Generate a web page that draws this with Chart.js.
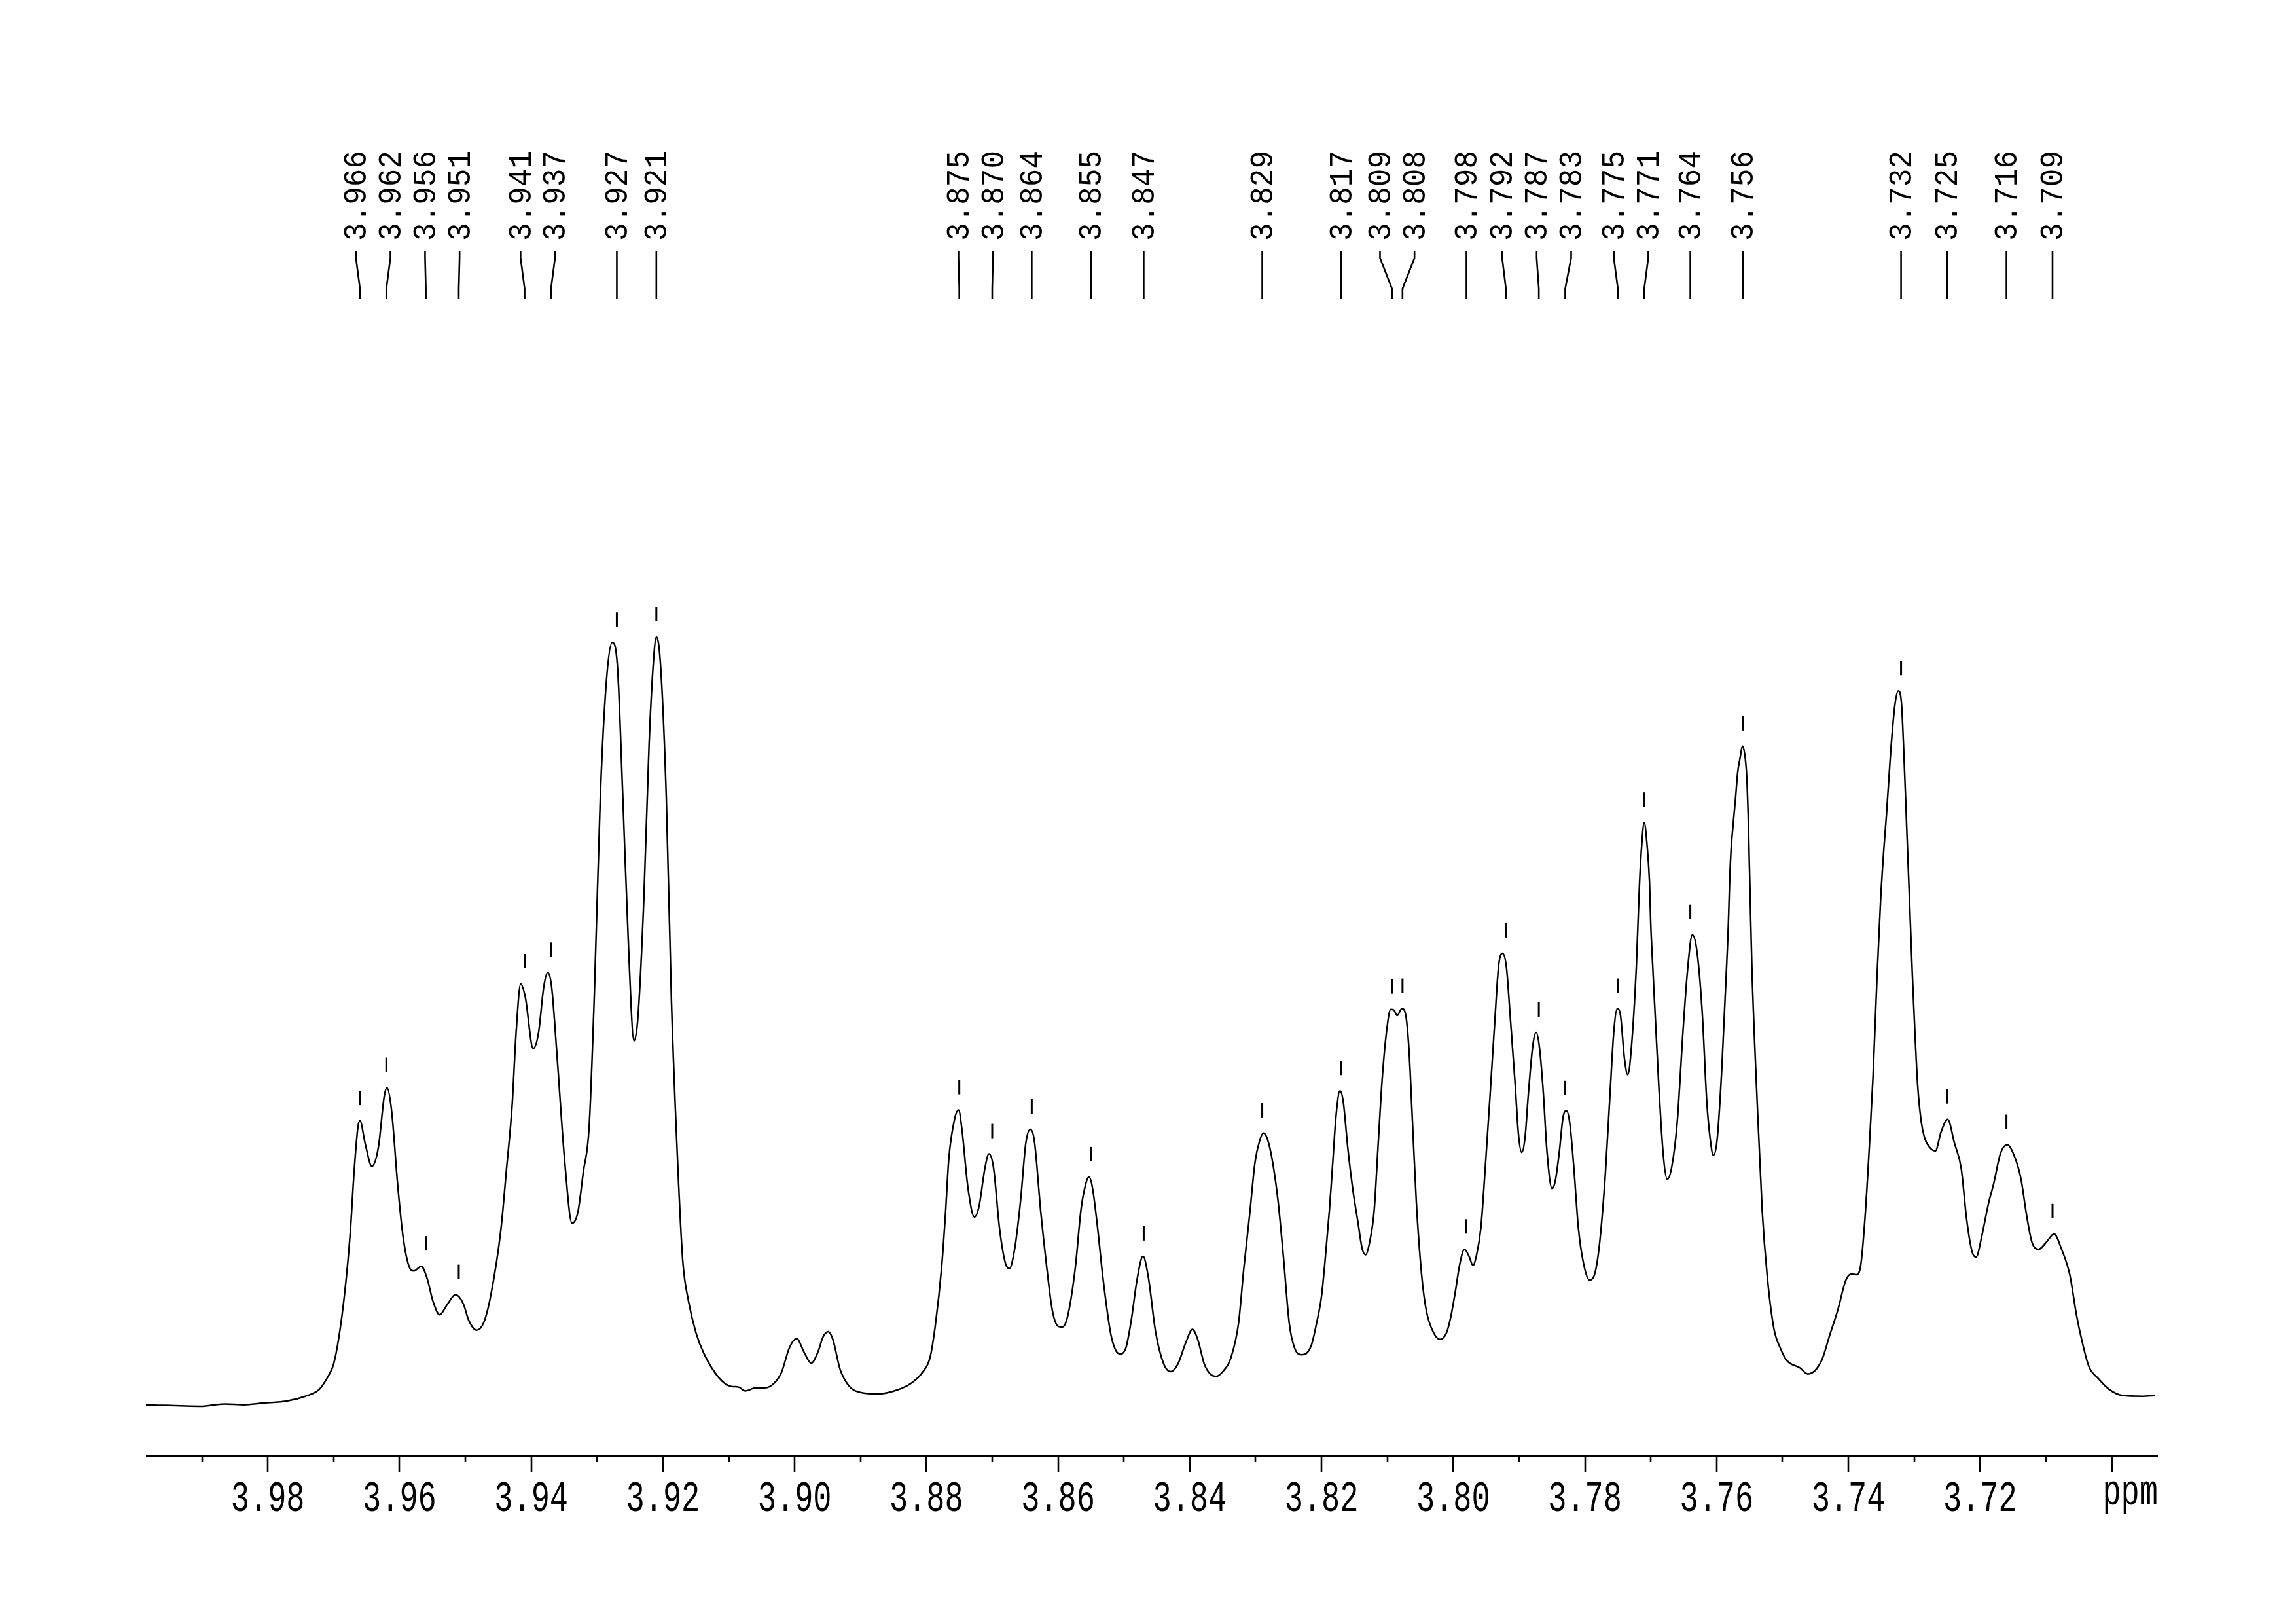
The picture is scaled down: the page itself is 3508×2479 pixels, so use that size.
<!DOCTYPE html>
<html>
<head>
<meta charset="utf-8">
<title>1H NMR, 3.70 - 3.99 ppm</title>
<script src="https://cdn.jsdelivr.net/npm/chart.js@4.4.1/dist/chart.umd.min.js"></script>
<style>
  html, body { margin: 0; padding: 0; background: #fff; }
  canvas { display: block; }
</style>
</head>
<body>
<canvas id="spectrum" width="3508" height="2479"></canvas>
<script>
// chemical shift (ppm) of each traced point, left to right
const shifts = [
  3.9985, 3.9902, 3.9866, 3.9836, 3.9809, 3.9770, 3.9743, 3.9723, 3.9717, 3.9707,
  3.9700, 3.9692, 3.9683, 3.9675, 3.9669, 3.9663, 3.9660, 3.9652, 3.9642, 3.9632,
  3.9623, 3.9619, 3.9612, 3.9603, 3.9595, 3.9586, 3.9578, 3.9567, 3.9558, 3.9549,
  3.9539, 3.9527, 3.9515, 3.9503, 3.9495, 3.9483, 3.9472, 3.9461, 3.9446, 3.9438,
  3.9429, 3.9423, 3.9416, 3.9409, 3.9397, 3.9389, 3.9381, 3.9375, 3.9369, 3.9361,
  3.9349, 3.9338, 3.9329, 3.9321, 3.9312, 3.9304, 3.9295, 3.9286, 3.9277, 3.9269,
  3.9261, 3.9252, 3.9244, 3.9238, 3.9229, 3.9221, 3.9215, 3.9210, 3.9204, 3.9195,
  3.9187, 3.9178, 3.9170, 3.9161, 3.9150, 3.9138, 3.9114, 3.9097, 3.9085, 3.9075,
  3.9059, 3.9045, 3.9031, 3.9020, 3.9008, 3.8997, 3.8985, 3.8975, 3.8964, 3.8957,
  3.8949, 3.8942, 3.8931, 3.8917, 3.8900, 3.8874, 3.8845, 3.8823, 3.8806, 3.8794,
  3.8786, 3.8777, 3.8771, 3.8766, 3.8757, 3.8751, 3.8746, 3.8737, 3.8727, 3.8720,
  3.8711, 3.8705, 3.8698, 3.8689, 3.8680, 3.8674, 3.8666, 3.8657, 3.8649, 3.8642,
  3.8636, 3.8626, 3.8617, 3.8609, 3.8600, 3.8594, 3.8586, 3.8574, 3.8565, 3.8557,
  3.8553, 3.8548, 3.8540, 3.8532, 3.8520, 3.8512, 3.8505, 3.8497, 3.8489, 3.8480,
  3.8471, 3.8463, 3.8452, 3.8440, 3.8429, 3.8418, 3.8406, 3.8396, 3.8388, 3.8378,
  3.8369, 3.8360, 3.8349, 3.8338, 3.8326, 3.8318, 3.8309, 3.8301, 3.8294, 3.8288,
  3.8282, 3.8275, 3.8266, 3.8258, 3.8249, 3.8241, 3.8230, 3.8216, 3.8208, 3.8200,
  3.8194, 3.8188, 3.8183, 3.8178, 3.8172, 3.8167, 3.8160, 3.8152, 3.8145, 3.8138,
  3.8133, 3.8127, 3.8120, 3.8114, 3.8108, 3.8101, 3.8095, 3.8090, 3.8085, 3.8078,
  3.8072, 3.8067, 3.8062, 3.8056, 3.8048, 3.8041, 3.8030, 3.8020, 3.8010, 3.8004,
  3.7997, 3.7990, 3.7983, 3.7976, 3.7970, 3.7965, 3.7958, 3.7952, 3.7944, 3.7937,
  3.7931, 3.7925, 3.7919, 3.7914, 3.7906, 3.7901, 3.7896, 3.7891, 3.7886, 3.7879,
  3.7874, 3.7869, 3.7863, 3.7858, 3.7850, 3.7845, 3.7839, 3.7833, 3.7828, 3.7823,
  3.7817, 3.7810, 3.7802, 3.7793, 3.7784, 3.7777, 3.7769, 3.7762, 3.7756, 3.7751,
  3.7746, 3.7740, 3.7735, 3.7730, 3.7722, 3.7719, 3.7717, 3.7714, 3.7710, 3.7706,
  3.7702, 3.7700, 3.7697, 3.7688, 3.7681, 3.7675, 3.7668, 3.7660, 3.7651, 3.7644,
  3.7637, 3.7630, 3.7622, 3.7615, 3.7610, 3.7605, 3.7599, 3.7592, 3.75840, 3.75823,
  3.75803, 3.75780, 3.75747, 3.75714, 3.75681, 3.75648, 3.75608, 3.75564, 3.75538, 3.75521,
  3.75505, 3.75489, 3.75465, 3.75385, 3.75309, 3.75233, 3.75131, 3.75030, 3.74929, 3.74736,
  3.74615, 3.74409, 3.74285, 3.74161, 3.74038, 3.73955, 3.73873, 3.73811, 3.73749, 3.73687,
  3.73626, 3.73564, 3.73510, 3.73461, 3.73420, 3.73358, 3.73296, 3.73242, 3.73193, 3.73152,
  3.73111, 3.73069, 3.73028, 3.72987, 3.72946, 3.72892, 3.72843, 3.72760, 3.72678, 3.72595,
  3.72492, 3.72389, 3.72286, 3.72204, 3.72122, 3.72060, 3.71977, 3.71874, 3.71792, 3.71689,
  3.71586, 3.71483, 3.71380, 3.71297, 3.71215, 3.71112, 3.70988, 3.70877, 3.70762, 3.70638,
  3.70535, 3.70453, 3.70349, 3.70205, 3.70040, 3.69834, 3.69545, 3.69339
];

// relative intensity (tallest line = 100)
const intensity = [
  0.2, 0.0, 0.3, 0.2, 0.4, 0.7, 1.3, 2.1, 2.7, 4.1,
  5.5, 9.0, 14.9, 22.3, 30.4, 36.4, 37.1, 34.1, 31.2, 33.7,
  40.4, 41.4, 38.4, 29.0, 22.3, 18.3, 17.6, 18.2, 16.6, 13.6,
  11.9, 13.3, 14.5, 13.3, 11.2, 9.9, 10.9, 14.6, 23.0, 30.4,
  39.1, 48.5, 54.9, 53.2, 46.5, 48.5, 54.5, 56.4, 54.5, 45.8,
  31.7, 23.8, 25.3, 30.4, 36.4, 53.9, 79.4, 94.1, 99.3, 96.1,
  79.4, 59.2, 47.5, 50.5, 65.9, 86.1, 96.1, 100.0, 96.8, 79.4,
  52.5, 32.4, 19.0, 13.6, 9.6, 6.9, 3.6, 2.6, 2.5, 2.0,
  2.4, 2.4, 3.0, 4.4, 7.6, 8.8, 6.9, 5.6, 7.2, 9.0,
  9.7, 8.7, 4.8, 2.6, 1.8, 1.6, 2.1, 3.0, 4.4, 6.5,
  10.8, 17.9, 25.0, 32.1, 37.4, 38.5, 36.0, 28.5, 24.6, 26.0,
  31.0, 32.8, 31.0, 23.2, 18.6, 17.9, 20.4, 26.7, 34.2, 36.0,
  34.5, 25.0, 17.9, 12.6, 10.4, 10.3, 11.5, 17.9, 25.7, 29.2,
  29.8, 28.5, 23.2, 16.8, 9.4, 7.2, 6.8, 7.6, 11.1, 16.5,
  19.5, 16.8, 9.7, 5.6, 4.5, 5.5, 8.3, 10.0, 8.7, 5.5,
  4.2, 3.9, 4.6, 6.2, 10.8, 17.9, 25.0, 31.7, 34.5, 35.5,
  34.7, 32.1, 26.7, 19.6, 10.8, 7.6, 6.7, 7.8, 10.6, 14.3,
  19.5, 25.5, 31.6, 37.7, 41.0, 39.6, 33.5, 27.9, 24.1, 20.4,
  19.7, 21.3, 25.5, 34.0, 42.4, 48.9, 51.6, 51.5, 50.8, 51.7,
  50.8, 46.1, 37.2, 26.5, 17.1, 12.5, 9.6, 8.7, 9.6, 11.5,
  14.8, 18.5, 20.4, 19.5, 18.3, 19.5, 23.2, 30.2, 40.5, 49.9,
  57.3, 58.9, 56.9, 51.3, 41.9, 35.4, 33.0, 34.9, 40.5, 47.0,
  48.6, 46.6, 40.5, 33.5, 28.3, 29.3, 33.0, 37.7, 38.4, 36.8,
  31.2, 23.2, 18.5, 16.4, 17.6, 21.8, 30.2, 40.5, 48.9, 51.7,
  50.8, 45.2, 43.1, 46.1, 57.1, 63.9, 68.2, 72.7, 75.9, 73.3,
  68.2, 62.5, 57.1, 41.9, 32.6, 29.5, 31.2, 36.8, 48.9, 56.9,
  61.3, 59.2, 51.3, 39.6, 34.9, 32.6, 34.9, 44.2, 59.0, 62.5,
  68.2, 72.5, 75.9, 79.0, 82.4, 84.1, 85.8, 84.1, 81.0, 76.7,
  71.0, 65.4, 57.1, 39.6, 25.5, 17.0, 10.1, 7.5, 5.9, 5.0,
  4.2, 5.9, 9.2, 12.5, 16.4, 17.2, 17.1, 18.4, 24.3, 32.9,
  42.8, 56.0, 65.9, 72.5, 77.1, 85.0, 91.0, 93.0, 91.3, 83.7,
  74.5, 65.2, 56.0, 48.1, 41.5, 36.9, 34.9, 33.6, 33.2, 35.6,
  37.3, 34.2, 30.9, 24.3, 20.1, 19.4, 22.0, 26.3, 29.0, 32.9,
  34.0, 32.6, 29.6, 25.0, 21.4, 20.4, 21.4, 22.4, 20.4, 17.1,
  11.8, 8.5, 5.2, 3.6, 2.2, 1.4, 1.3, 1.4
];

// picked peaks: position and height of each labelled line
const peakShifts = [
  3.966, 3.962, 3.956, 3.951, 3.941, 3.937, 3.927, 3.921,
  3.875, 3.870, 3.864, 3.855, 3.847, 3.829, 3.817, 3.8093, 3.8077,
  3.798, 3.792, 3.787, 3.783, 3.775, 3.771, 3.764, 3.756,
  3.732, 3.725, 3.716, 3.709
];
const peakHeights = [
  37.1, 41.4, 18.2, 14.5, 54.9, 56.4, 99.3, 100.0,
  38.5, 32.8, 36.0, 29.8, 19.5, 35.5, 41.0, 51.6, 51.7,
  20.4, 58.9, 48.6, 38.4, 51.7, 75.9, 61.3, 85.8,
  93.0, 37.3, 34.0, 22.4
];

// x axis
const majorTicks = [3.98, 3.96, 3.94, 3.92, 3.90, 3.88, 3.86, 3.84, 3.82, 3.80, 3.78, 3.76, 3.74, 3.72, 3.70];
const minorTicks = [3.99, 3.97, 3.95, 3.93, 3.91, 3.89, 3.87, 3.85, 3.83, 3.81, 3.79, 3.77, 3.75, 3.73, 3.71];
const tickLabels = ['3.98', '3.96', '3.94', '3.92', '3.90', '3.88', '3.86', '3.84', '3.82', '3.80', '3.78', '3.76', '3.74', '3.72', 'ppm'];

const LABEL_GAP = 52.7;

// push overlapping peak labels apart, each group centred on its peaks
function spreadLabels(px, gap) {
  let groups = px.map(p => ({ sum: p, n: 1, pos: p }));
  let again = true;
  while (again) {
    again = false;
    for (let i = 0; i < groups.length - 1; i++) {
      const a = groups[i], b = groups[i + 1];
      const aEnd = a.pos + (a.n - 1) * gap;
      if (b.pos - aEnd < gap - 0.01) {
        const n = a.n + b.n, sum = a.sum + b.sum;
        groups.splice(i, 2, { sum, n, pos: sum / n - (n - 1) * gap / 2 });
        again = true;
        break;
      }
    }
  }
  const out = [];
  groups.forEach(g => { for (let k = 0; k < g.n; k++) out.push(g.pos + k * gap); });
  return out;
}

const nmrDecor = {
  id: 'nmrDecor',
  afterDraw(chart) {
    const ctx = chart.ctx, area = chart.chartArea;
    const xs = chart.scales.x, ys = chart.scales.y;
    const axisY = area.bottom;
    ctx.save();
    ctx.strokeStyle = '#000';
    ctx.fillStyle = '#000';

    // axis line and ticks
    ctx.lineWidth = 3.2;
    ctx.beginPath();
    ctx.moveTo(area.left, axisY);
    ctx.lineTo(area.right, axisY);
    ctx.stroke();
    ctx.lineWidth = 2.6;
    majorTicks.forEach(v => {
      const p = Math.round(xs.getPixelForValue(v));
      ctx.beginPath(); ctx.moveTo(p, axisY); ctx.lineTo(p, axisY + 25); ctx.stroke();
    });
    minorTicks.forEach(v => {
      const p = Math.round(xs.getPixelForValue(v));
      ctx.beginPath(); ctx.moveTo(p, axisY); ctx.lineTo(p, axisY + 9); ctx.stroke();
    });

    // tick labels (tall, narrow plotter style)
    ctx.font = '47px "Liberation Mono"';
    ctx.textBaseline = 'alphabetic';
    majorTicks.forEach((v, i) => {
      const label = tickLabels[i];
      ctx.save();
      if (label === 'ppm') {
        ctx.textAlign = 'right';
        ctx.translate(area.right, axisY + 74);
      } else {
        ctx.textAlign = 'center';
        ctx.translate(xs.getPixelForValue(v), axisY + 84);
      }
      ctx.scale(1, 1.42);
      ctx.fillText(label, 0, 0);
      ctx.restore();
    });

    // little bars above each picked peak
    ctx.lineWidth = 3;
    const peakPx = peakShifts.map(s => xs.getPixelForValue(s));
    peakPx.forEach((p, i) => {
      const top = ys.getPixelForValue(peakHeights[i]);
      ctx.beginPath(); ctx.moveTo(p, top - 24); ctx.lineTo(p, top - 46); ctx.stroke();
    });

    // peak labels with their connector lines
    const labelPx = spreadLabels(peakPx, LABEL_GAP);
    ctx.lineWidth = 2.6;
    peakPx.forEach((p, i) => {
      const lx = labelPx[i];
      ctx.beginPath();
      ctx.moveTo(lx, 383);
      ctx.lineTo(lx, 394);
      ctx.lineTo(p, 441);
      ctx.lineTo(p, 457);
      ctx.stroke();

      ctx.save();
      ctx.font = '46px "Liberation Mono"';
      ctx.textAlign = 'left';
      ctx.textBaseline = 'alphabetic';
      ctx.translate(lx, 368);
      ctx.rotate(-Math.PI / 2);
      ctx.scale(1, 1.1);
      ctx.fillText(peakShifts[i].toFixed(3), 0, 14);
      ctx.restore();
    });
    ctx.restore();
  }
};

const canvas = document.getElementById('spectrum');

new Chart(canvas.getContext('2d'), {
  type: 'line',
  data: {
    datasets: [{
      data: shifts.map((s, i) => ({ x: s, y: intensity[i] })),
      borderColor: '#000',
      borderWidth: 2.5,
      pointRadius: 0,
      fill: false,
      cubicInterpolationMode: 'monotone'
    }]
  },
  options: {
    responsive: false,
    animation: false,
    devicePixelRatio: 1,
    layout: { padding: { left: 223, right: 211, top: 480, bottom: 0 } },
    plugins: { legend: { display: false }, tooltip: { enabled: false } },
    scales: {
      x: {
        type: 'linear',
        reverse: true,
        min: 3.6930,
        max: 3.9985,
        grid: { display: false },
        border: { display: false },
        ticks: { display: false },
        afterFit: scale => { scale.height = 255 }
      },
      y: { display: false, min: -6.47, max: 141.96 }
    }
  },
  plugins: [nmrDecor]
});
</script>
</body>
</html>
